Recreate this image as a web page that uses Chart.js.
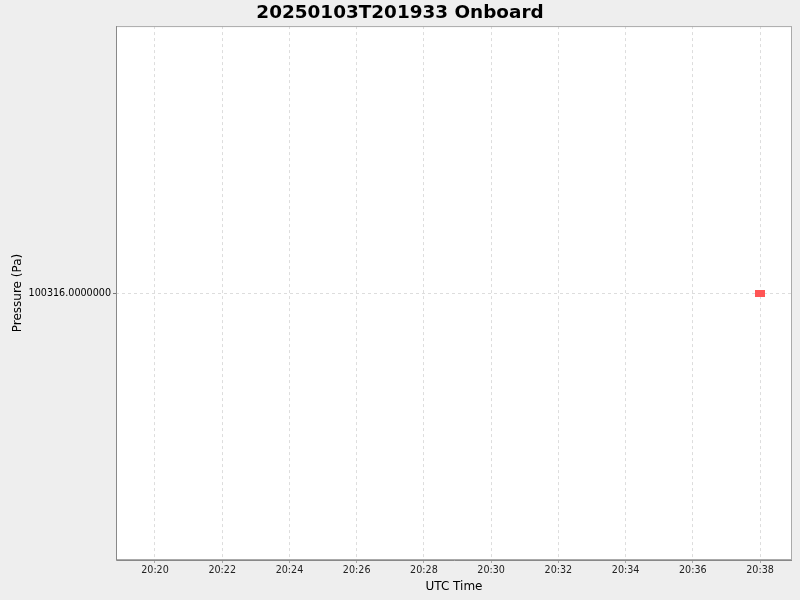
<!DOCTYPE html>
<html>
<head>
<meta charset="utf-8">
<script src="https://cdn.jsdelivr.net/npm/chart.js@4"></script>
<style>
  html, body { margin: 0; padding: 0; background: #eeeeee; }
  #wrap { width: 800px; height: 600px; }
</style>
</head>
<body>
<div id="wrap"><canvas id="myChart" width="800" height="600"></canvas></div>
<script>
// data (times as minutes after midnight UTC)
const titleText = '20250103T201933 Onboard';
const sampleTimes = [20 * 60 + 38];
const pressureValues = [100316];
const xTickMinutes = [1220, 1222, 1224, 1226, 1228, 1230, 1232, 1234, 1236, 1238];
const yTickValues = [100316];

const fmtTime = (m) => {
    const h = Math.floor(m / 60);
    const mm = Math.round(m % 60);
    return String(h).padStart(2, '0') + ':' + String(mm).padStart(2, '0');
};

// little red rectangle marker like the original plot
const marker = document.createElement('canvas');
marker.width = 10;
marker.height = 7;
const mctx = marker.getContext('2d');
mctx.fillStyle = '#ff5555';
mctx.fillRect(0, 0, 10, 7);

// background + plot frame
const framePlugin = {
    id: 'frame',
    beforeDraw(chart) {
        const { ctx, chartArea: a } = chart;
        ctx.save();
        ctx.fillStyle = '#eeeeee';
        ctx.fillRect(0, 0, chart.width, chart.height);
        ctx.fillStyle = '#ffffff';
        ctx.fillRect(a.left, a.top, a.right - a.left, a.bottom - a.top);
        ctx.restore();
    },
    afterDatasetsDraw(chart) {
        const { ctx, chartArea: a } = chart;
        ctx.save();
        ctx.strokeStyle = '#aaaaaa';
        ctx.lineWidth = 1;
        ctx.strokeRect(a.left + 0.5, a.top + 0.5, a.right - a.left - 1, a.bottom - a.top - 1);
        ctx.strokeStyle = '#888888';
        ctx.beginPath();
        ctx.moveTo(a.left + 0.5, a.top);
        ctx.lineTo(a.left + 0.5, a.bottom + 0.5);
        ctx.lineTo(a.right, a.bottom + 0.5);
        ctx.stroke();
        ctx.restore();
    }
};

const data = {
    datasets: [{
        label: 'Pressure',
        data: sampleTimes.map((t, i) => ({ x: t, y: pressureValues[i] })),
        pointStyle: marker,
        showLine: false
    }]
};

const config = {
    type: 'scatter',
    data,
    plugins: [framePlugin],
    options: {
        responsive: false,
        animation: false,
        layout: { padding: 0 },
        plugins: {
            legend: { display: false },
            tooltip: { enabled: false },
            title: {
                display: true,
                text: titleText,
                color: '#000000',
                font: { family: 'DejaVu Sans', size: 18.4, weight: 'bold' },
                padding: { top: 2, bottom: 2 }
            }
        },
        scales: {
            x: {
                type: 'linear',
                min: 1218.84,
                max: 1238.95,
                afterBuildTicks: (scale) => { scale.ticks = xTickMinutes.map(v => ({ value: v })); },
                afterFit: (scale) => { scale.height = 40; },
                border: { display: false, dash: [3, 3] },
                grid: {
                    color: '#dddddd',
                    tickLength: 3,
                    tickColor: '#aaaaaa',
                    tickBorderDash: []
                },
                ticks: {
                    callback: (v) => fmtTime(v),
                    color: '#222222',
                    font: { family: 'DejaVu Sans', size: 9.6 },
                    padding: 2,
                    maxRotation: 0,
                    autoSkip: false
                },
                title: {
                    display: true,
                    text: 'UTC Time',
                    color: '#000000',
                    font: { family: 'DejaVu Sans', size: 12 },
                    padding: { top: 0, bottom: 6 }
                }
            },
            y: {
                min: 100315,
                max: 100317,
                afterBuildTicks: (scale) => { scale.ticks = yTickValues.map(v => ({ value: v })); },
                afterFit: (scale) => { scale.width = 116; },
                border: { display: false, dash: [3, 3] },
                grid: {
                    color: '#dddddd',
                    tickLength: 3,
                    tickColor: '#777777',
                    tickBorderDash: []
                },
                ticks: {
                    callback: (v) => v.toFixed(7),
                    color: '#000000',
                    font: { family: 'DejaVu Sans', size: 9.6 },
                    padding: 2
                },
                title: {
                    display: true,
                    text: 'Pressure (Pa)',
                    color: '#000000',
                    font: { family: 'DejaVu Sans', size: 12 },
                    padding: { top: 11, bottom: 0 }
                }
            },
            // empty strip on the right, keeps the title centred on the full width
            yRight: {
                position: 'right',
                display: true,
                afterFit: (scale) => { scale.width = 8; },
                border: { display: false },
                grid: { display: false },
                ticks: { display: false }
            }
        }
    }
};

const myChart = new Chart(document.getElementById('myChart'), config);
</script>
</body>
</html>
